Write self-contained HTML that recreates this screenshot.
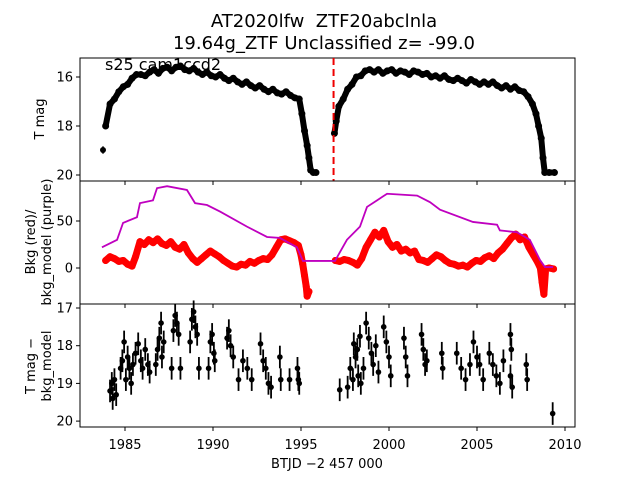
<!DOCTYPE html>
<html><head><meta charset="utf-8"><style>
body{margin:0;background:#fff}
svg{display:block;font-family:"DejaVu Sans","Liberation Sans",sans-serif}
</style></head><body>
<svg id="c" width="640" height="480" viewBox="0 0 640 480" xmlns="http://www.w3.org/2000/svg">
<rect width="640" height="480" fill="#fff"/>
<text x="324" y="27" font-size="18" text-anchor="middle">AT2020lfw&#160; ZTF20abclnla</text>
<text x="324" y="49" font-size="18" text-anchor="middle">19.64g_ZTF Unclassified z= -99.0</text>
<g id="p1"></g>
<g id="p2"></g>
<g id="p3"></g>
<text x="105" y="70" font-size="16">s25 cam1ccd2</text>
<text x="327" y="468" font-size="13" text-anchor="middle">BTJD −2 457 000</text>
<text transform="translate(44,119) rotate(-90)" font-size="13" text-anchor="middle">T mag</text>
<text transform="translate(43,242) rotate(-90)" font-size="13" text-anchor="middle"><tspan x="0" dy="-8">Bkg (red)/</tspan><tspan x="0" dy="16">bkg_model (purple)</tspan></text>
<text transform="translate(43,366) rotate(-90)" font-size="13" text-anchor="middle"><tspan x="0" dy="-8">T mag −</tspan><tspan x="0" dy="16">bkg_model</tspan></text>
</svg>
<script>
const xTicks=[1985,1990,1995,2000,2005,2010];
const magTicks=[16,18,20];
const bkgTicks=[0,50];
const diffTicks=[17,18,19,20];
const discoveryT=1996.85;
const magT1=[1983.9,1984.15,1984.4,1984.65,1984.9,1985.15,1985.4,1985.65,1985.9,1986.15,1986.4,1986.65,1986.9,1987.15,1987.4,1987.65,1987.9,1988.15,1988.4,1988.65,1988.9,1989.15,1989.4,1989.65,1989.9,1990.15,1990.4,1990.65,1990.9,1991.15,1991.4,1991.65,1991.9,1992.15,1992.4,1992.65,1992.9,1993.15,1993.4,1993.65,1993.9,1994.15,1994.4,1994.65,1994.9,1995.05,1995.2,1995.35,1995.45,1995.55,1995.7,1995.85];
const magV1=[18.0,17.1,16.9,16.6,16.4,16.3,16.05,15.9,15.9,15.95,15.8,15.7,15.85,15.65,15.6,15.75,15.6,15.55,15.7,15.75,15.65,15.8,15.9,15.8,15.95,16.0,15.9,16.05,16.15,16.05,16.2,16.3,16.2,16.35,16.45,16.35,16.5,16.6,16.5,16.65,16.7,16.6,16.75,16.85,16.9,17.5,18.2,18.8,19.3,19.8,19.9,19.9];
const magT2=[1996.9,1997.0,1997.15,1997.4,1997.65,1997.9,1998.15,1998.4,1998.65,1998.9,1999.15,1999.4,1999.65,1999.9,2000.15,2000.4,2000.65,2000.9,2001.15,2001.4,2001.65,2001.9,2002.15,2002.4,2002.65,2002.9,2003.15,2003.4,2003.65,2003.9,2004.15,2004.4,2004.65,2004.9,2005.15,2005.4,2005.65,2005.9,2006.15,2006.4,2006.65,2006.9,2007.15,2007.4,2007.65,2007.9,2008.15,2008.35,2008.5,2008.65,2008.75,2008.85,2009.1,2009.4];
const magV2=[18.3,17.8,17.2,16.9,16.5,16.3,16.0,15.95,15.75,15.7,15.8,15.7,15.85,15.75,15.7,15.85,15.75,15.8,15.9,15.75,15.8,15.9,15.85,16.0,15.95,16.05,15.95,16.1,16.15,16.05,16.15,16.25,16.1,16.2,16.3,16.2,16.3,16.2,16.35,16.45,16.35,16.5,16.4,16.55,16.6,16.8,17.1,17.5,18.0,18.5,19.3,19.9,19.9,19.9];
const outlierT=[1983.75];
const outlierV=[18.98];
const bkgT1=[1983.9,1984.15,1984.4,1984.65,1984.9,1985.15,1985.4,1985.6,1985.85,1986.1,1986.35,1986.6,1986.85,1987.1,1987.35,1987.6,1987.85,1988.1,1988.35,1988.6,1988.85,1989.1,1989.35,1989.6,1989.85,1990.1,1990.35,1990.6,1990.85,1991.1,1991.35,1991.6,1991.85,1992.1,1992.35,1992.6,1992.85,1993.1,1993.35,1993.6,1993.85,1994.1,1994.35,1994.6,1994.85,1995.0,1995.1,1995.2,1995.3,1995.35,1995.45];
const bkgV1=[8,12,10,7,8,4,2,12,28,25,30,27,31,26,24,28,22,20,25,16,10,6,10,14,18,15,12,8,5,2,1,4,3,7,5,8,10,9,14,22,30,31,29,27,24,14,4,-8,-20,-30,-25];
const bkgT2=[1996.95,1997.2,1997.45,1997.7,1997.95,1998.2,1998.45,1998.7,1998.95,1999.2,1999.45,1999.7,1999.95,2000.2,2000.45,2000.7,2000.95,2001.2,2001.45,2001.7,2001.95,2002.2,2002.45,2002.7,2002.95,2003.2,2003.45,2003.7,2003.95,2004.2,2004.45,2004.7,2004.95,2005.2,2005.45,2005.7,2005.95,2006.2,2006.45,2006.7,2006.95,2007.2,2007.45,2007.7,2007.95,2008.2,2008.45,2008.6,2008.7,2008.8,2008.9,2009.1,2009.35];
const bkgV2=[8,7,9,8,6,3,10,22,30,38,33,40,28,22,25,18,20,16,18,9,8,6,10,14,12,8,5,4,2,3,1,5,8,7,11,13,10,16,20,26,32,36,30,33,22,14,6,0,-15,-28,-1,0,-1];
const modelT=[1983.69,1984.55,1984.89,1985.68,1985.85,1986.59,1986.82,1987.39,1988.52,1988.98,1989.66,1990.4,1991.93,1993.07,1993.8,1994.77,1995.11,1996.93,1997.61,1998.35,1998.75,1999.32,1999.89,2001.6,2002.33,2002.9,2004.77,2006.14,2006.3,2007.27,2008.0,2008.58,2008.86,2009.32];
const modelV=[22,30,48,54,69,72,85,87,83,69,67,60,44,33,32,22,7.5,7.5,30,44,65,72,79,77,70,62,49,46,40,38,30,8.5,1,1];
const diffT=[1984.15,1984.25,1984.3,1984.4,1984.5,1984.75,1984.85,1984.95,1985.05,1985.15,1985.25,1985.35,1985.45,1985.6,1985.75,1985.9,1986.0,1986.15,1986.3,1986.4,1986.75,1986.85,1986.95,1987.05,1987.1,1987.2,1987.65,1987.75,1987.85,1987.95,1988.05,1988.15,1988.7,1988.8,1988.9,1989.0,1989.1,1989.2,1989.75,1989.85,1989.95,1990.05,1990.1,1990.8,1990.9,1991.0,1991.15,1991.45,1991.7,1991.95,1992.2,1992.7,1992.85,1993.0,1993.15,1993.3,1993.8,1993.85,1994.35,1994.8,1994.85,1994.9,1997.2,1997.65,1997.8,1997.95,1998.1,1998.25,1998.4,1998.55,1998.0,1998.2,1998.35,1998.7,1998.85,1999.0,1999.1,1999.25,1999.4,1999.7,1999.85,2000.0,2000.1,2000.85,2000.95,2001.05,2001.85,2001.95,2002.05,2002.15,2003.0,2003.05,2003.85,2004.1,2004.35,2004.6,2004.8,2005.0,2005.15,2005.35,2005.7,2005.9,2006.1,2006.3,2006.5,2006.9,2006.95,2006.9,2007.0,2007.8,2007.85,2009.3];
const diffV=[19.2,19.0,19.4,18.9,19.3,18.6,18.4,17.9,18.9,18.3,18.6,19.0,18.5,18.2,17.95,18.4,18.6,18.1,18.5,18.7,18.5,18.1,17.8,17.4,18.3,17.9,18.6,17.6,17.2,17.4,17.7,18.6,17.9,17.3,17.1,17.5,17.7,18.6,18.6,17.9,17.7,18.2,18.4,17.8,17.6,18.0,18.3,18.9,18.4,18.6,18.9,17.95,18.4,18.6,19.0,19.1,18.3,18.9,18.9,18.6,18.9,19.0,19.17,19.1,18.6,18.9,18.3,18.8,19.0,18.6,17.95,18.1,17.75,17.4,17.8,18.2,18.5,18.0,18.7,17.5,17.9,18.3,18.8,17.8,18.3,18.8,17.7,18.1,18.5,18.4,18.2,18.6,18.2,18.6,18.9,18.5,17.9,18.3,18.5,18.9,18.2,18.5,18.8,19.0,18.4,17.7,18.1,18.8,19.1,18.5,18.9,19.8];
const diffErr=0.3;

const NS='http://www.w3.org/2000/svg';
const svg=document.getElementById('c');
const L=80,R=575;
const X=t=>125+(t-1985)*17.6;
const Y1=m=>77+(m-16)*24.5;
const Y2=v=>268-v*0.94;
const Y3=m=>308+(m-17)*37.7;
function mk(parent,tag,attrs){const e=document.createElementNS(NS,tag);for(const k in attrs)e.setAttribute(k,attrs[k]);parent.appendChild(e);return e;}

function panel(g,top,bot,yTicks,Yf,showX,nm){
  const f=mk(g,'rect',{x:L,y:top,width:R-L,height:bot-top,fill:'none',stroke:'#000','stroke-width':1});
  
  
  yTicks.forEach(v=>{const y=Yf(v);
    const tk=mk(g,'line',{x1:L-4,x2:L,y1:y,y2:y,stroke:'#000'});
    
    
    const tx=mk(g,'text',{x:L-7,y:y+4.5,'font-size':13,'text-anchor':'end'});tx.textContent=v;
    
    
  });
  xTicks.forEach(t=>{const x=X(t);
    const tk=mk(g,'line',{x1:x,x2:x,y1:bot,y2:bot+4,stroke:'#000'});
    
    
    if(showX){const tx=mk(g,'text',{x:x,y:bot+22,'font-size':13,'text-anchor':'middle'});tx.textContent=t;
      
      }
  });
}
function series(g,ts,vs,Yf,col,r,w,nm){
  const pts=ts.map((t,i)=>X(t)+','+Yf(vs[i])).join(' ');
  const pl=mk(g,'polyline',{points:pts,fill:'none',stroke:col,'stroke-width':w,'stroke-linejoin':'round','stroke-linecap':'round'});
  
  
  ts.forEach((t,i)=>{const c=mk(g,'circle',{cx:X(t),cy:Yf(vs[i]),r:r,fill:col});
    
    });
}
const p1=document.getElementById('p1'),p2=document.getElementById('p2'),p3=document.getElementById('p3');
panel(p1,58,181,magTicks,Y1,false,'mag');
panel(p2,181,304,bkgTicks,Y2,false,'bkg');
panel(p3,304,427,diffTicks,Y3,true,'diff');
series(p1,magT1,magV1,Y1,'#000',3.5,6,'mag');
series(p1,magT2,magV2,Y1,'#000',3.5,6,'mag');
outlierT.forEach((t,i)=>{
  const e=mk(p1,'line',{x1:X(t),x2:X(t),y1:Y1(outlierV[i]-0.15),y2:Y1(outlierV[i]+0.15),stroke:'#000','stroke-width':1.5});
  
  
  const c=mk(p1,'circle',{cx:X(t),cy:Y1(outlierV[i]),r:3,fill:'#000'});
  
  
});
const dl=mk(p1,'line',{x1:X(discoveryT),x2:X(discoveryT),y1:58,y2:181,stroke:'#e00','stroke-width':2,'stroke-dasharray':'7,4'});


series(p2,bkgT1,bkgV1,Y2,'#f00',3.5,7,'bkg');
series(p2,bkgT2,bkgV2,Y2,'#f00',3.5,7,'bkg');
const ml=mk(p2,'polyline',{points:modelT.map((t,i)=>X(t)+','+Y2(modelV[i])).join(' '),fill:'none',stroke:'#bf00bf','stroke-width':1.8});


diffT.forEach((t,i)=>{
  const e=mk(p3,'line',{x1:X(t),x2:X(t),y1:Y3(diffV[i]-diffErr),y2:Y3(diffV[i]+diffErr),stroke:'#000','stroke-width':1.8});
  
  
  const c=mk(p3,'circle',{cx:X(t),cy:Y3(diffV[i]),r:2.8,fill:'#000'});
  
  
});
</script>
</body></html>
